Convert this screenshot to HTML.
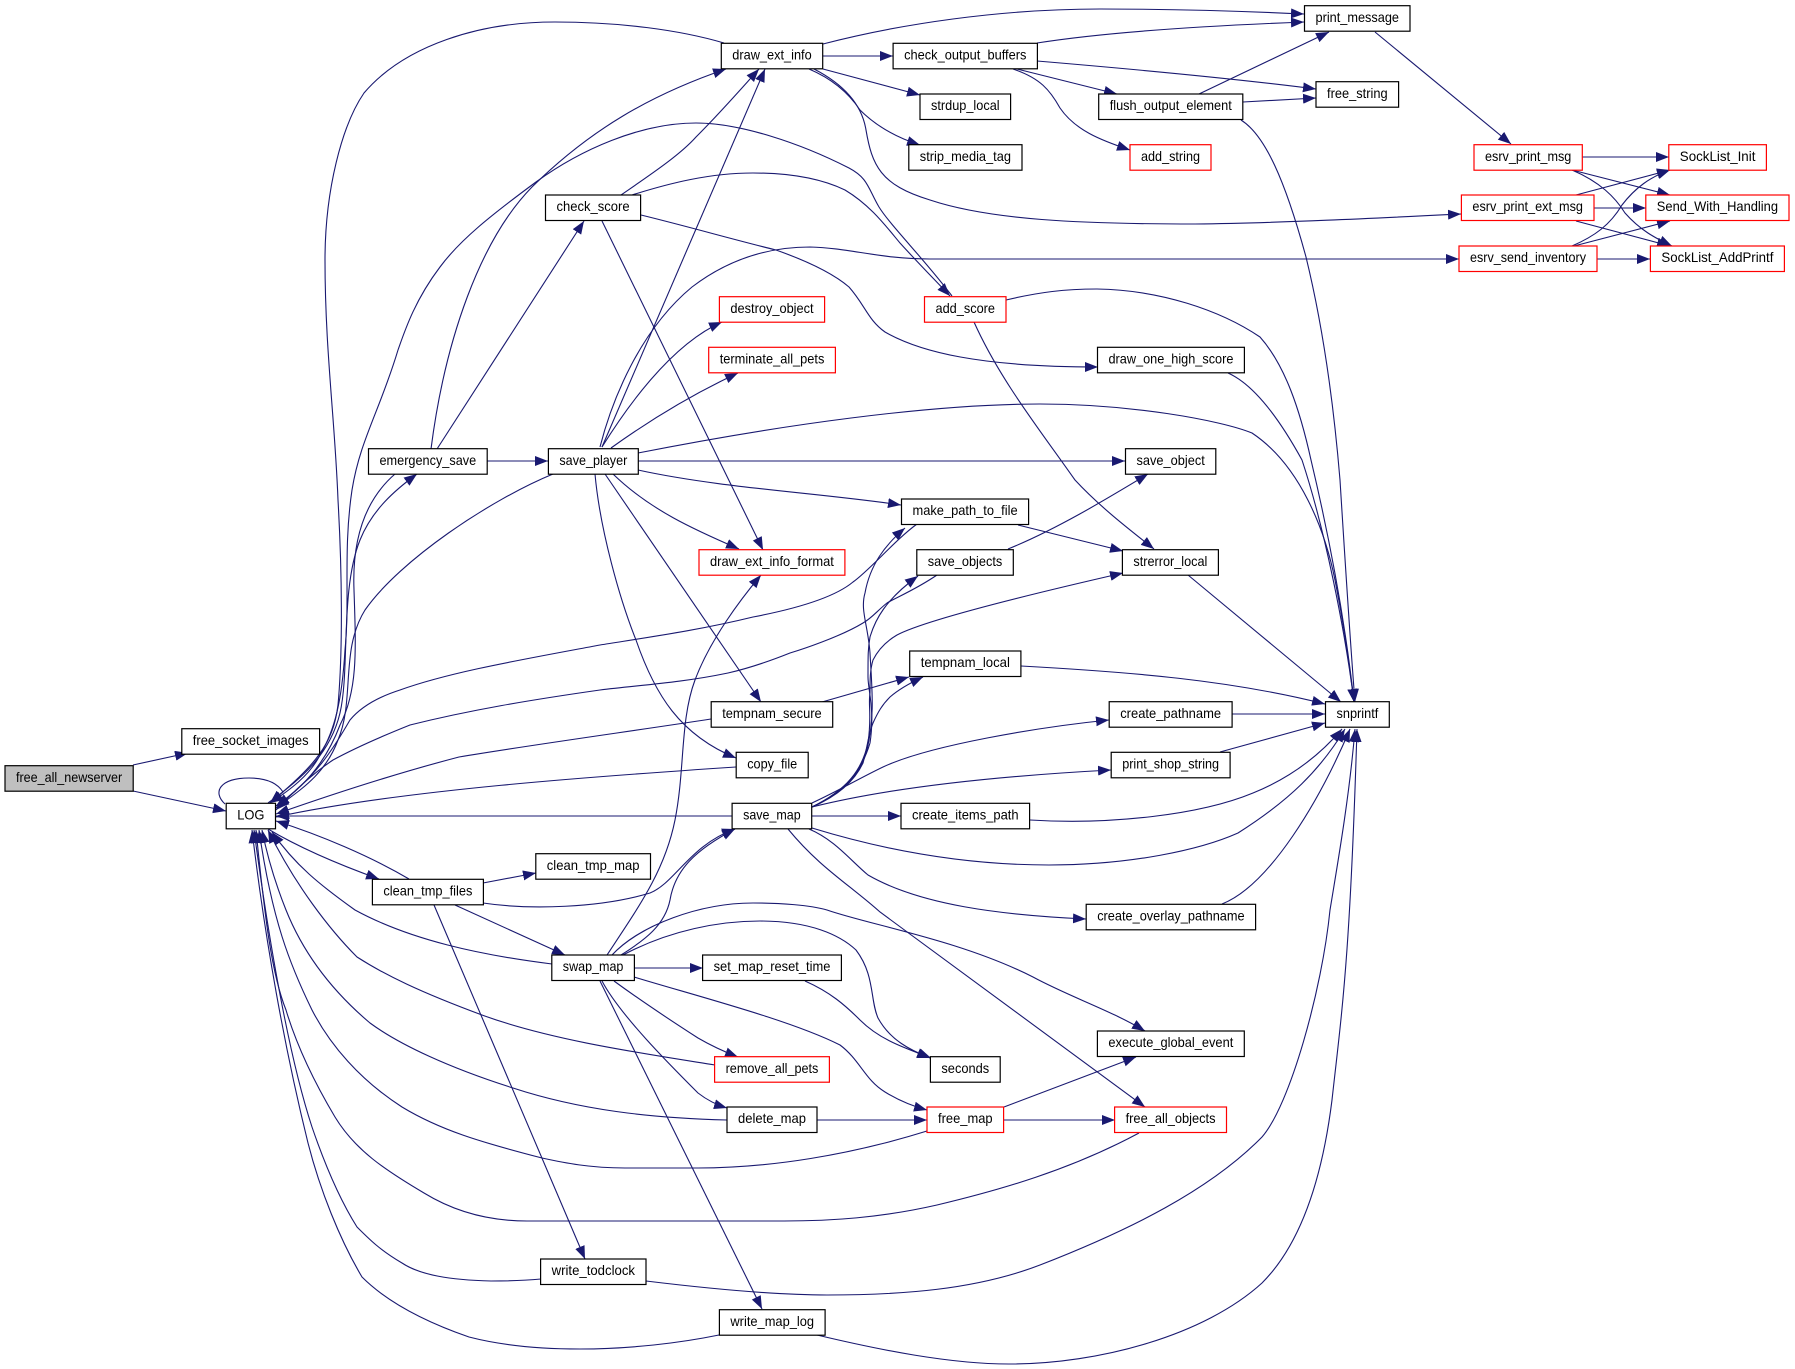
<!DOCTYPE html>
<html><head><meta charset="utf-8"><style>
html,body{margin:0;padding:0;background:#fff}
svg{display:block}
.e path{fill:none;stroke:#191970;stroke-width:1.1;marker-end:url(#a)}
.n rect{fill:#fff;stroke:#000;stroke-width:1.2}
.n rect.r{stroke:#f00}
.n text{font:14px "Liberation Sans",sans-serif;fill:#000}
</style></head><body>
<svg xmlns="http://www.w3.org/2000/svg" width="1795" height="1369" viewBox="0 0 1795 1369">
<defs><marker id="a" markerUnits="userSpaceOnUse" markerWidth="14" markerHeight="11" refX="13" refY="5" orient="auto"><path d="M0,0L13,5L0,10z" fill="#191970"/></marker></defs>
<rect width="1795" height="1369" fill="#fff"/>
<g class="e">
<path d="M133,765L188,753"/>
<path d="M133,791L226,811"/>
<path d="M225,804C212,792 220,778 249,778C268,778 278,784 283,792L270,803"/>
<path d="M268,803C300,780 330,755 340,713C350,670 340,590 360,540C372,510 395,490 417,474"/>
<path d="M395,474C365,500 352,540 354,590C356,650 358,690 340,725C325,765 300,790 276,806"/>
<path d="M431,449C445,340 480,240 532,187C590,130 650,95 726,69"/>
<path d="M952,296C925,260 890,225 879,207C868,188 868,178 849,168C800,143 740,123 696,123C640,123 580,150 536,182C490,216 460,240 440,267C415,300 405,330 398,350C380,410 360,440 352,490C343,550 350,600 345,650C342,700 335,730 320,755C310,775 290,790 270,803"/>
<path d="M724,43C680,30 620,22 555,22C480,22 405,45 364,93C342,125 325,190 325,260C325,350 335,420 338,500C342,570 343,650 338,705C333,745 315,765 270,803"/>
<path d="M553,474C490,500 400,560 365,610C340,650 355,700 338,740C325,775 300,790 276,808"/>
<path d="M917,524C895,540 870,570 853,582C835,597 800,608 753,617C700,630 650,637 600,645C520,660 450,672 400,690C375,698 360,708 350,720C338,740 320,775 276,806"/>
<path d="M937,575C915,590 895,598 887,603C878,610 872,618 863,623C840,637 800,650 790,653C770,661 750,668 728,673C680,683 640,685 600,690C530,700 470,710 410,725C380,737 355,748 333,760C315,772 295,790 276,810"/>
<path d="M711,719C640,730 530,745 459,757C390,775 330,795 276,814"/>
<path d="M736,767C600,776 400,790 276,817"/>
<path d="M732,816L276,816"/>
<path d="M409,879C370,856 320,835 276,821"/>
<path d="M268,829C300,848 340,865 379,879"/>
<path d="M483,883L536,873"/>
<path d="M483,903C530,910 600,908 650,893C675,883 690,845 735,829"/>
<path d="M455,905L565,955"/>
<path d="M434,905L585,1259"/>
<path d="M552,964C480,955 410,940 355,910C320,885 295,865 272,832"/>
<path d="M715,1065C640,1053 550,1040 482,1015C420,992 385,975 357,957C330,930 295,885 268,830"/>
<path d="M727,1120C650,1118 580,1110 513,1088C450,1068 400,1045 370,1023C325,985 300,945 286,910C276,885 268,860 262,830"/>
<path d="M927,1131C850,1155 770,1168 698,1168L625,1168C590,1168 565,1163 542,1158C480,1142 440,1130 402,1107C360,1080 330,1045 312,1010C290,965 272,920 259,830"/>
<path d="M1139,1133C1070,1170 1000,1190 937,1205C880,1218 830,1221 784,1221L527,1221C490,1221 455,1212 424,1193C385,1170 355,1150 335,1117C310,1075 295,1040 286,1010C272,975 265,920 256,830"/>
<path d="M541,1279C520,1281 505,1281 491,1281C450,1280 420,1275 402,1263C380,1250 370,1240 357,1227C340,1200 325,1165 312,1127C290,1060 270,950 254,830"/>
<path d="M719,1335C680,1343 630,1349 580,1349C540,1349 500,1345 469,1337C420,1320 385,1300 362,1277C340,1240 320,1190 308,1143C285,1050 265,940 252,830"/>
<path d="M602,447L765,69"/>
<path d="M621,195C650,175 680,155 696,137C720,113 740,90 759,69"/>
<path d="M632,195C670,183 710,173 753,173C790,173 820,178 845,190C870,205 885,225 900,243C920,265 935,280 950,296"/>
<path d="M641,215C690,227 735,240 776,250C810,262 835,275 849,287C865,305 868,320 885,332C920,352 980,367 1098,367"/>
<path d="M602,221L763,550"/>
<path d="M600,447C612,400 640,330 692,287C730,258 770,247 810,247C850,248 880,259 930,259L1459,259"/>
<path d="M602,447C625,410 670,345 722,322"/>
<path d="M611,448C650,420 695,393 738,373"/>
<path d="M638,453C780,425 930,404 1040,404C1130,404 1220,420 1252,433C1300,465 1325,530 1335,580C1345,630 1350,670 1354,702"/>
<path d="M638,461L1125,461"/>
<path d="M638,470C720,488 820,493 901,505"/>
<path d="M613,474C650,510 695,530 739,549"/>
<path d="M605,474L761,702"/>
<path d="M595,474C600,530 620,600 636,640C655,695 680,735 736,758"/>
<path d="M487,461L548,461"/>
<path d="M437,449L584,221"/>
<path d="M823,56L893,56"/>
<path d="M823,44C900,24 1000,9 1100,9C1170,9 1240,11 1304,14"/>
<path d="M823,69L920,95"/>
<path d="M809,69C835,80 850,95 860,110C875,125 895,137 920,145"/>
<path d="M814,69C845,85 862,105 866,130C872,165 880,185 930,200C990,220 1080,224 1195,224C1280,223 1380,218 1461,214"/>
<path d="M1037,43C1100,33 1200,26 1304,22"/>
<path d="M1037,61C1120,68 1230,78 1316,89"/>
<path d="M1017,69L1117,94"/>
<path d="M1013,69C1040,78 1050,90 1060,108C1075,130 1100,140 1130,150"/>
<path d="M1199,94L1329,32"/>
<path d="M1243,102L1316,98"/>
<path d="M1241,120C1265,135 1285,180 1306,257C1325,335 1335,420 1340,480C1345,560 1350,640 1355,702"/>
<path d="M1375,32L1511,144"/>
<path d="M1582,157L1669,157"/>
<path d="M1572,170L1670,195"/>
<path d="M1572,170C1600,182 1615,197 1625,213C1640,230 1655,238 1672,246"/>
<path d="M1576,195L1670,170"/>
<path d="M1594,208L1646,208"/>
<path d="M1576,221L1670,246"/>
<path d="M1572,246C1595,236 1610,225 1622,205C1635,188 1650,177 1670,170"/>
<path d="M1574,246L1670,221"/>
<path d="M1597,259L1650,259"/>
<path d="M1006,300C1040,292 1065,289 1097,289C1160,290 1220,310 1260,337C1285,365 1300,410 1311,460C1330,540 1345,620 1354,702"/>
<path d="M974,322C1000,380 1040,430 1075,480C1100,507 1130,530 1154,549"/>
<path d="M1228,373C1255,385 1280,420 1302,460C1325,530 1345,630 1354,702"/>
<path d="M1008,549C1055,530 1105,500 1148,474"/>
<path d="M1018,525L1123,551"/>
<path d="M1188,575L1341,702"/>
<path d="M1021,666C1130,672 1230,680 1325,704"/>
<path d="M1232,714L1325,714"/>
<path d="M1220,752L1325,723"/>
<path d="M1030,820C1110,825 1200,815 1253,793C1290,778 1320,755 1342,729"/>
<path d="M812,828C900,855 980,865 1049,865C1130,865 1200,850 1238,833C1290,800 1320,770 1345,729"/>
<path d="M1222,904C1270,885 1320,800 1350,729"/>
<path d="M646,1281C720,1290 780,1295 827,1295C900,1295 975,1290 1040,1265C1130,1230 1210,1190 1262,1137C1290,1105 1322,990 1330,910C1340,850 1350,790 1355,729"/>
<path d="M817,1335C880,1350 950,1364 1009,1364C1100,1364 1205,1335 1262,1283C1300,1245 1322,1180 1332,1100C1342,1010 1350,960 1357,729"/>
<path d="M812,807C847,790 860,775 867,750C875,715 872,690 870,653C868,625 860,610 865,593C870,565 885,545 905,528"/>
<path d="M812,807C847,790 862,770 870,743C875,710 868,690 868,677C868,655 868,648 870,637C875,620 885,600 918,576"/>
<path d="M812,807C847,790 862,770 868,743C872,715 868,705 870,693C870,680 870,670 873,660C878,650 885,642 897,635C925,620 1040,592 1123,573"/>
<path d="M812,807C840,795 855,780 863,763C868,745 868,735 873,723C878,712 882,705 890,697C898,690 910,683 923,677"/>
<path d="M812,803C840,790 860,778 883,767C930,745 1040,727 1109,720"/>
<path d="M812,807C880,790 980,777 1111,770"/>
<path d="M812,816L901,816"/>
<path d="M809,829C835,840 850,860 868,875C920,905 1000,915 1086,919"/>
<path d="M788,829C820,868 850,885 880,912L1145,1107"/>
<path d="M607,955C640,905 665,870 675,820C685,770 680,720 695,680C710,640 740,600 761,575"/>
<path d="M621,955C645,940 665,925 670,900C675,870 695,850 735,829"/>
<path d="M612,955C640,925 700,903 753,903C780,903 810,905 827,910C870,925 960,940 1033,977C1070,997 1110,1010 1145,1031"/>
<path d="M623,955C670,930 720,921 760,921C810,921 840,935 856,950C875,975 870,1000 878,1018C890,1040 910,1050 930,1058"/>
<path d="M634,968L703,968"/>
<path d="M805,981C830,992 845,1005 860,1020C880,1040 905,1048 931,1058"/>
<path d="M634,977C700,997 790,1020 840,1045C860,1060 865,1080 885,1092C898,1100 912,1106 927,1110"/>
<path d="M614,981C640,1000 670,1020 698,1038C710,1045 725,1052 738,1057"/>
<path d="M602,981C620,1015 670,1065 698,1093C707,1100 717,1105 727,1108"/>
<path d="M600,981L762,1309"/>
<path d="M817,1120L927,1120"/>
<path d="M1004,1107L1136,1057"/>
<path d="M1004,1120L1115,1120"/>
<path d="M822,702L909,677"/>
</g>
<g class="n">
<rect x="5" y="765.7" width="128.2" height="25.5" style="fill:#bfbfbf"/><text x="16" y="782" textLength="106.2" lengthAdjust="spacingAndGlyphs">free_all_newserver</text>
<rect x="181.8" y="728.7" width="137.8" height="25.5"/><text x="192.8" y="745" textLength="115.8" lengthAdjust="spacingAndGlyphs">free_socket_images</text>
<rect x="226.2" y="803.3" width="49.3" height="25.5"/><text x="237.2" y="819.5" textLength="27.3" lengthAdjust="spacingAndGlyphs">LOG</text>
<rect x="721.3" y="43.3" width="101.4" height="25.5"/><text x="732.3" y="59.5" textLength="79.4" lengthAdjust="spacingAndGlyphs">draw_ext_info</text>
<rect x="893.1" y="43.3" width="144.3" height="25.5"/><text x="904.1" y="59.5" textLength="122.3" lengthAdjust="spacingAndGlyphs">check_output_buffers</text>
<rect x="920" y="94" width="90.6" height="25.5"/><text x="931" y="110.2" textLength="68.6" lengthAdjust="spacingAndGlyphs">strdup_local</text>
<rect x="908.8" y="144.7" width="113.2" height="25.5"/><text x="919.8" y="160.9" textLength="91.2" lengthAdjust="spacingAndGlyphs">strip_media_tag</text>
<rect x="1098.7" y="94" width="144.1" height="25.5"/><text x="1109.7" y="110.2" textLength="122.1" lengthAdjust="spacingAndGlyphs">flush_output_element</text>
<rect class="r" x="1130" y="144.7" width="81" height="25.5"/><text x="1141" y="160.9" textLength="59" lengthAdjust="spacingAndGlyphs">add_string</text>
<rect x="545.5" y="195" width="95.1" height="25.5"/><text x="556.5" y="211.2" textLength="73.1" lengthAdjust="spacingAndGlyphs">check_score</text>
<rect class="r" x="719.4" y="296.7" width="105.2" height="25.5"/><text x="730.4" y="312.9" textLength="83.2" lengthAdjust="spacingAndGlyphs">destroy_object</text>
<rect class="r" x="708.7" y="347.3" width="126.7" height="25.5"/><text x="719.7" y="363.5" textLength="104.7" lengthAdjust="spacingAndGlyphs">terminate_all_pets</text>
<rect class="r" x="924.5" y="296.7" width="81.5" height="25.5"/><text x="935.5" y="312.9" textLength="59.5" lengthAdjust="spacingAndGlyphs">add_score</text>
<rect x="1097.5" y="347.3" width="146.9" height="25.5"/><text x="1108.5" y="363.5" textLength="124.9" lengthAdjust="spacingAndGlyphs">draw_one_high_score</text>
<rect x="1304.5" y="5.7" width="105.5" height="25.5"/><text x="1315.5" y="21.9" textLength="83.5" lengthAdjust="spacingAndGlyphs">print_message</text>
<rect x="1316" y="81.7" width="82.6" height="25.5"/><text x="1327" y="97.9" textLength="60.6" lengthAdjust="spacingAndGlyphs">free_string</text>
<rect class="r" x="1474" y="144.7" width="108.3" height="25.5"/><text x="1485" y="160.9" textLength="86.3" lengthAdjust="spacingAndGlyphs">esrv_print_msg</text>
<rect class="r" x="1461.4" y="195" width="132.6" height="25.5"/><text x="1472.4" y="211.2" textLength="110.6" lengthAdjust="spacingAndGlyphs">esrv_print_ext_msg</text>
<rect class="r" x="1459" y="246" width="138" height="25.5"/><text x="1470" y="262.2" textLength="116" lengthAdjust="spacingAndGlyphs">esrv_send_inventory</text>
<rect class="r" x="1668.8" y="144.7" width="97.6" height="25.5"/><text x="1679.8" y="160.9" textLength="75.6" lengthAdjust="spacingAndGlyphs">SockList_Init</text>
<rect class="r" x="1645.8" y="195" width="143.2" height="25.5"/><text x="1656.8" y="211.2" textLength="121.2" lengthAdjust="spacingAndGlyphs">Send_With_Handling</text>
<rect class="r" x="1650.4" y="246" width="134" height="25.5"/><text x="1661.4" y="262.2" textLength="112" lengthAdjust="spacingAndGlyphs">SockList_AddPrintf</text>
<rect x="368.5" y="448.7" width="118.7" height="25.5"/><text x="379.5" y="464.9" textLength="96.7" lengthAdjust="spacingAndGlyphs">emergency_save</text>
<rect x="548.4" y="448.7" width="89.9" height="25.5"/><text x="559.4" y="464.9" textLength="67.9" lengthAdjust="spacingAndGlyphs">save_player</text>
<rect x="1125.5" y="448.7" width="90.3" height="25.5"/><text x="1136.5" y="464.9" textLength="68.3" lengthAdjust="spacingAndGlyphs">save_object</text>
<rect x="901.5" y="499" width="127.1" height="25.5"/><text x="912.5" y="515.2" textLength="105.1" lengthAdjust="spacingAndGlyphs">make_path_to_file</text>
<rect class="r" x="699" y="549.7" width="145.9" height="25.5"/><text x="710" y="565.9" textLength="123.9" lengthAdjust="spacingAndGlyphs">draw_ext_info_format</text>
<rect x="916.8" y="549.7" width="96.5" height="25.5"/><text x="927.8" y="565.9" textLength="74.5" lengthAdjust="spacingAndGlyphs">save_objects</text>
<rect x="1122.4" y="549.7" width="96" height="25.5"/><text x="1133.4" y="565.9" textLength="74" lengthAdjust="spacingAndGlyphs">strerror_local</text>
<rect x="909.7" y="651" width="111.2" height="25.5"/><text x="920.7" y="667.2" textLength="89.2" lengthAdjust="spacingAndGlyphs">tempnam_local</text>
<rect x="711.2" y="701.7" width="121.5" height="25.5"/><text x="722.2" y="717.9" textLength="99.5" lengthAdjust="spacingAndGlyphs">tempnam_secure</text>
<rect x="1109.2" y="701.7" width="122.9" height="25.5"/><text x="1120.2" y="717.9" textLength="100.9" lengthAdjust="spacingAndGlyphs">create_pathname</text>
<rect x="1325.5" y="701.7" width="63.8" height="25.5"/><text x="1336.5" y="717.9" textLength="41.8" lengthAdjust="spacingAndGlyphs">snprintf</text>
<rect x="736.2" y="752.3" width="72" height="25.5"/><text x="747.2" y="768.5" textLength="50" lengthAdjust="spacingAndGlyphs">copy_file</text>
<rect x="1111.2" y="752.3" width="118.9" height="25.5"/><text x="1122.2" y="768.5" textLength="96.9" lengthAdjust="spacingAndGlyphs">print_shop_string</text>
<rect x="732.1" y="803.3" width="79.6" height="25.5"/><text x="743.1" y="819.5" textLength="57.6" lengthAdjust="spacingAndGlyphs">save_map</text>
<rect x="901" y="803.3" width="128.6" height="25.5"/><text x="912" y="819.5" textLength="106.6" lengthAdjust="spacingAndGlyphs">create_items_path</text>
<rect x="535.8" y="853.7" width="114.7" height="25.5"/><text x="546.8" y="869.9" textLength="92.7" lengthAdjust="spacingAndGlyphs">clean_tmp_map</text>
<rect x="372.4" y="879.3" width="111" height="25.5"/><text x="383.4" y="895.5" textLength="89" lengthAdjust="spacingAndGlyphs">clean_tmp_files</text>
<rect x="1086.2" y="904.3" width="169.4" height="25.5"/><text x="1097.2" y="920.5" textLength="147.4" lengthAdjust="spacingAndGlyphs">create_overlay_pathname</text>
<rect x="551.8" y="955" width="82.6" height="25.5"/><text x="562.8" y="971.2" textLength="60.6" lengthAdjust="spacingAndGlyphs">swap_map</text>
<rect x="702.6" y="955" width="138.8" height="25.5"/><text x="713.6" y="971.2" textLength="116.8" lengthAdjust="spacingAndGlyphs">set_map_reset_time</text>
<rect x="1097.4" y="1031" width="146.9" height="25.5"/><text x="1108.4" y="1047.2" textLength="124.9" lengthAdjust="spacingAndGlyphs">execute_global_event</text>
<rect class="r" x="714.6" y="1056.7" width="114.8" height="25.5"/><text x="725.6" y="1072.9" textLength="92.8" lengthAdjust="spacingAndGlyphs">remove_all_pets</text>
<rect x="930.4" y="1056.7" width="69.8" height="25.5"/><text x="941.4" y="1072.9" textLength="47.8" lengthAdjust="spacingAndGlyphs">seconds</text>
<rect x="727" y="1107" width="90" height="25.5"/><text x="738" y="1123.2" textLength="68" lengthAdjust="spacingAndGlyphs">delete_map</text>
<rect class="r" x="927" y="1107" width="76.6" height="25.5"/><text x="938" y="1123.2" textLength="54.6" lengthAdjust="spacingAndGlyphs">free_map</text>
<rect class="r" x="1114.6" y="1107" width="111.9" height="25.5"/><text x="1125.6" y="1123.2" textLength="89.9" lengthAdjust="spacingAndGlyphs">free_all_objects</text>
<rect x="540.6" y="1259" width="105.4" height="25.5"/><text x="551.6" y="1275.2" textLength="83.4" lengthAdjust="spacingAndGlyphs">write_todclock</text>
<rect x="719.4" y="1309.7" width="105.7" height="25.5"/><text x="730.4" y="1325.9" textLength="83.7" lengthAdjust="spacingAndGlyphs">write_map_log</text>
</g>
</svg>
</body></html>
